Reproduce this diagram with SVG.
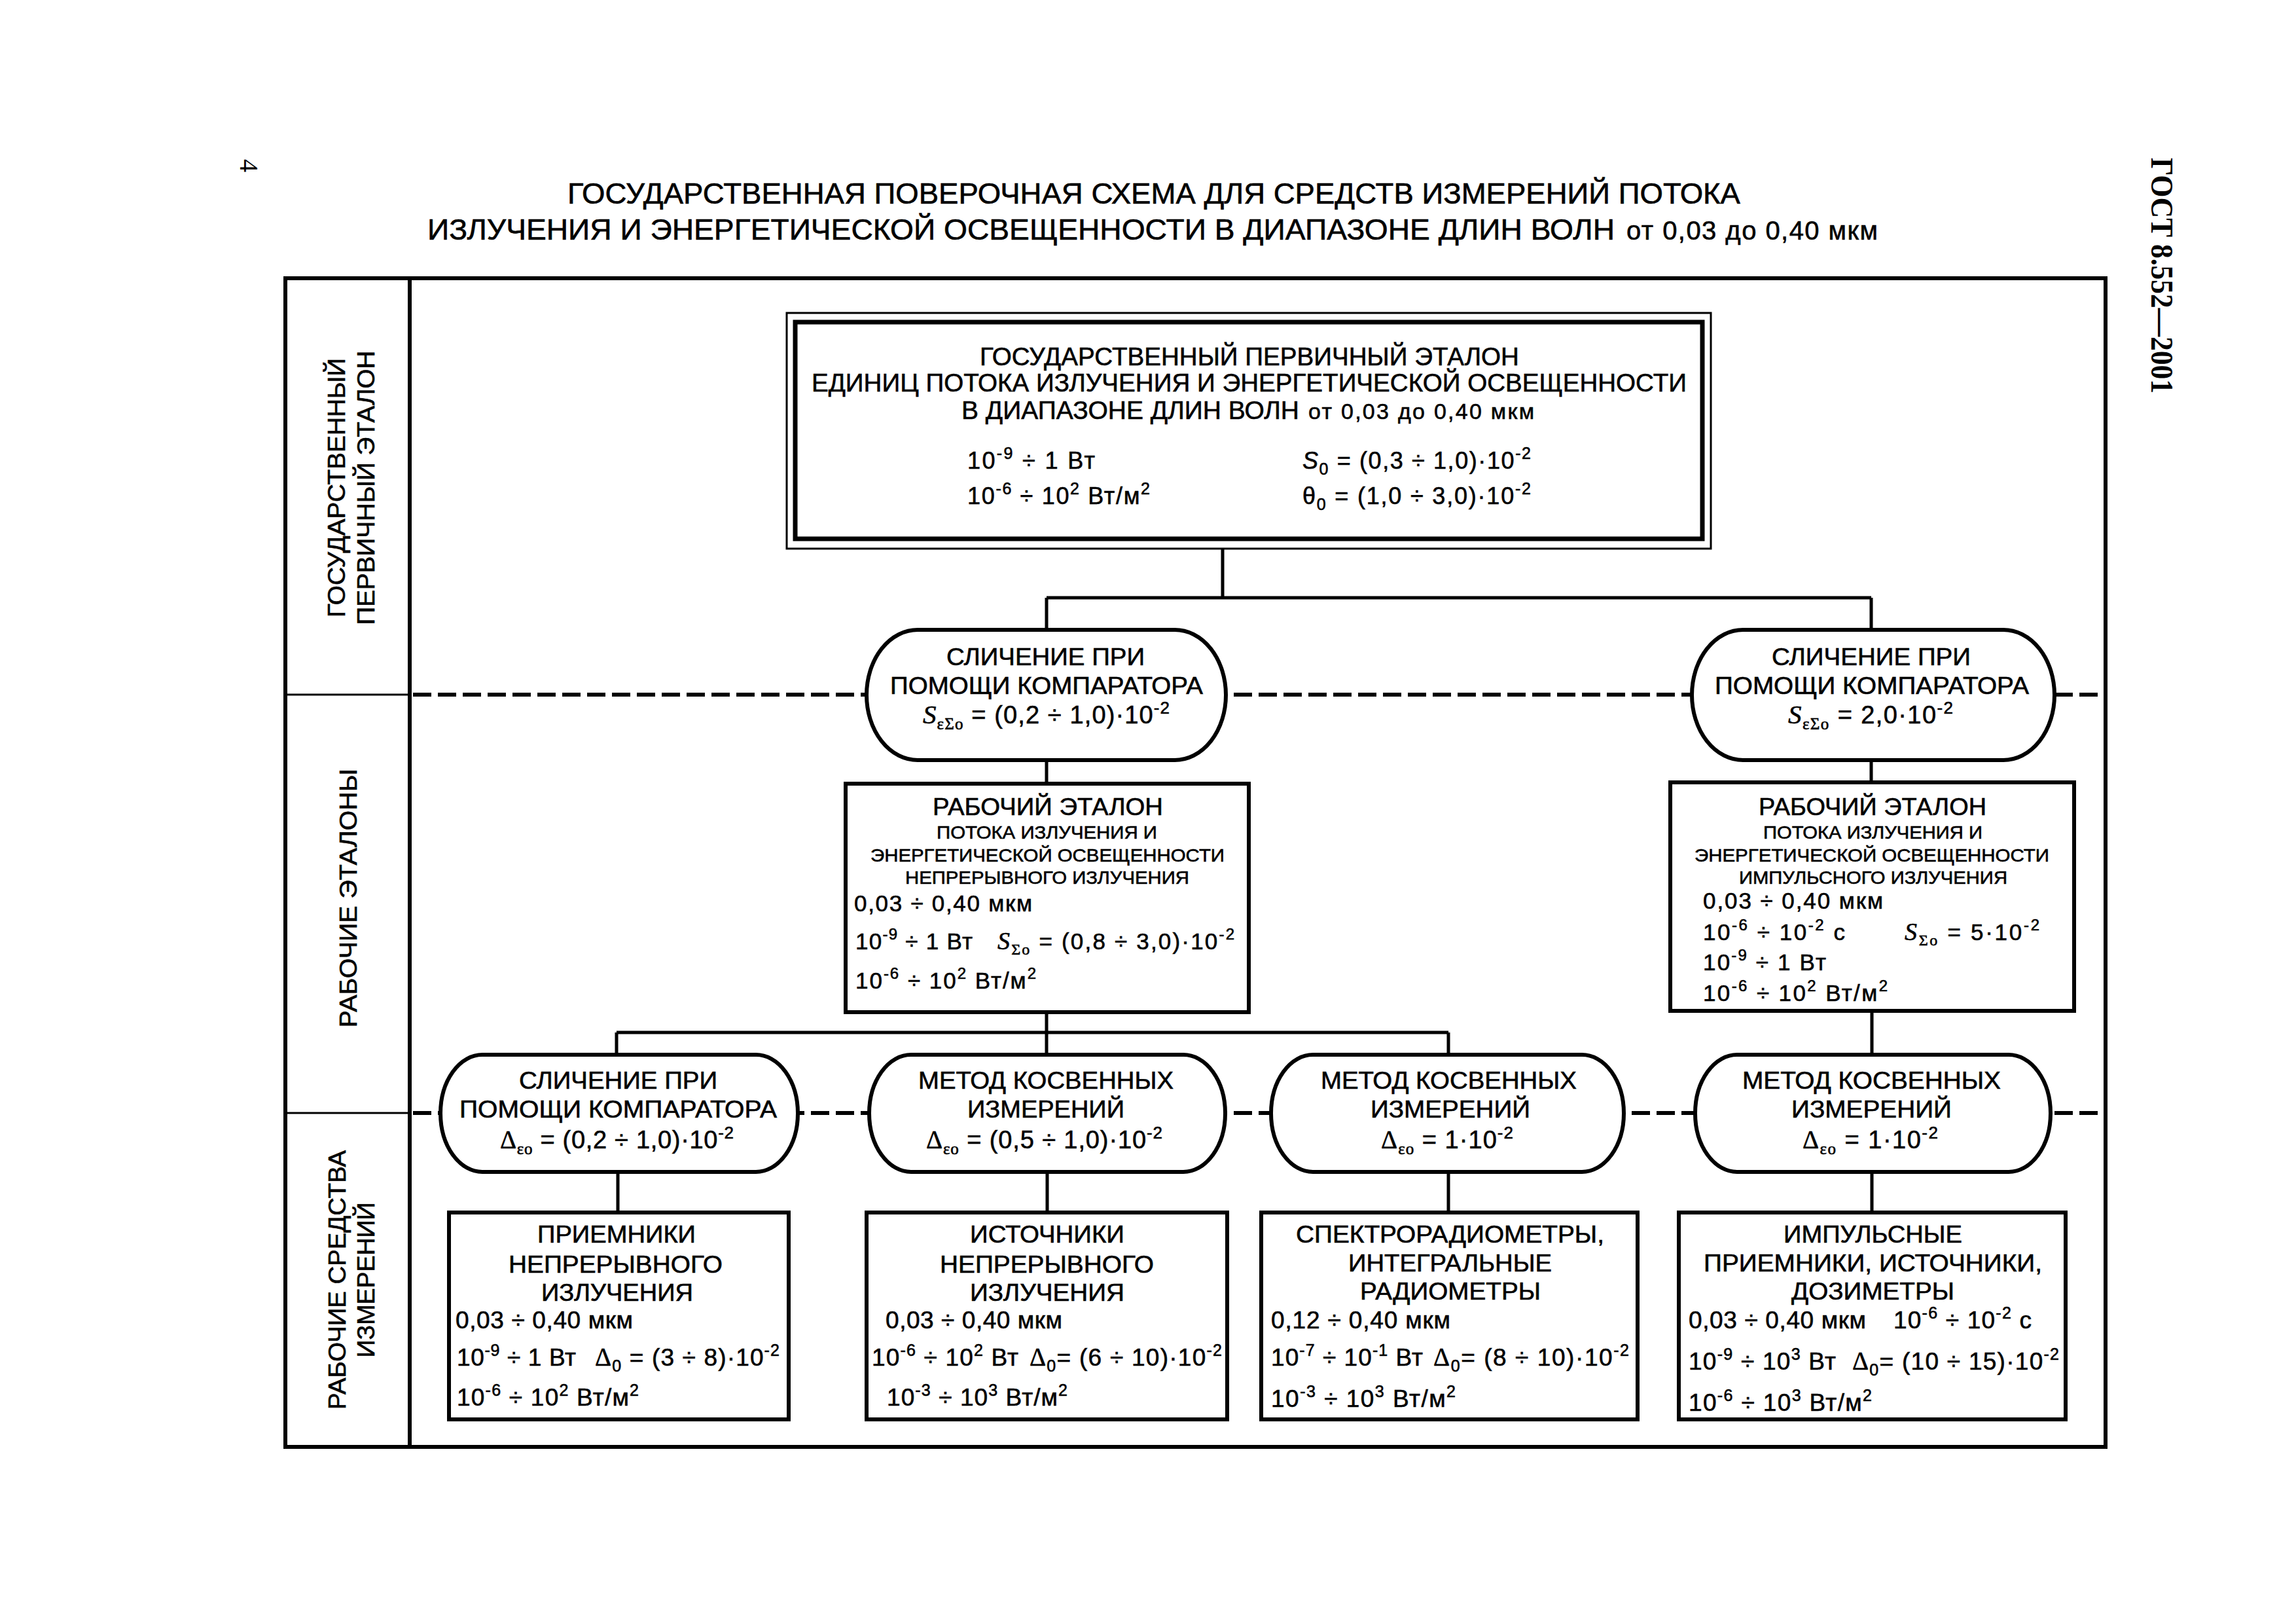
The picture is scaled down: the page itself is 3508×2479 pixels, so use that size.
<svg xmlns="http://www.w3.org/2000/svg" width="3508" height="2479" viewBox="0 0 3508 2479">
<style>
.f{font-family:"Liberation Sans",Arial,sans-serif;fill:#000;stroke:#000;stroke-width:0.6}
.s{font-family:"Liberation Serif","Times New Roman",serif;fill:#000}
.ln{stroke:#000;fill:none;stroke-width:5}
.thin{stroke:#000;fill:none;stroke-width:3}
.frame{stroke:#000;fill:none;stroke-width:6}
.box{fill:#fff;stroke:#000;stroke-width:6}
.oval{fill:#fff;stroke:#000;stroke-width:6}
.dash{stroke:#000;stroke-width:6;stroke-dasharray:28 10;fill:none}
</style>
<rect x="0" y="0" width="3508" height="2479" fill="#fff"/>

<g id="page-header">
<text class="s" font-size="40" text-anchor="middle" transform="translate(367,253) rotate(90)">4</text>
<text class="s" font-size="48" font-weight="bold" transform="translate(3287,241) rotate(90)" textLength="360" lengthAdjust="spacingAndGlyphs">ГОСТ 8.552—2001</text>
<text class="f" x="867" y="311" font-size="45" textLength="1792" lengthAdjust="spacingAndGlyphs">ГОСУДАРСТВЕННАЯ ПОВЕРОЧНАЯ СХЕМА ДЛЯ СРЕДСТВ ИЗМЕРЕНИЙ ПОТОКА</text>
<text class="f" x="653" y="366" font-size="45" textLength="1814" lengthAdjust="spacingAndGlyphs">ИЗЛУЧЕНИЯ И ЭНЕРГЕТИЧЕСКОЙ ОСВЕЩЕННОСТИ В ДИАПАЗОНЕ ДЛИН ВОЛН</text>
<text class="f" x="2485" y="366" font-size="40" textLength="384">от 0,03 до 0,40 мкм</text>
</g>

<g id="frame">
<rect class="frame" x="436" y="425" width="2781" height="1785"/>
<line class="frame" x1="626" y1="425" x2="626" y2="2210"/>
<line class="thin" x1="436" y1="1061" x2="626" y2="1061"/>
<line class="thin" x1="436" y1="1700" x2="626" y2="1700"/>
<line class="dash" x1="631" y1="1061" x2="3214" y2="1061"/>
<line class="dash" x1="631" y1="1700" x2="3214" y2="1700"/>
</g>

<g id="row-labels">
<text class="f" font-size="37" text-anchor="middle" transform="translate(527,745) rotate(-90)" textLength="396" lengthAdjust="spacingAndGlyphs">ГОСУДАРСТВЕННЫЙ</text>
<text class="f" font-size="37" text-anchor="middle" transform="translate(572,745) rotate(-90)" textLength="419" lengthAdjust="spacingAndGlyphs">ПЕРВИЧНЫЙ ЭТАЛОН</text>
<text class="f" font-size="37" text-anchor="middle" transform="translate(545,1372) rotate(-90)" textLength="395" lengthAdjust="spacingAndGlyphs">РАБОЧИЕ ЭТАЛОНЫ</text>
<text class="f" font-size="37" text-anchor="middle" transform="translate(528,1955) rotate(-90)" textLength="396" lengthAdjust="spacingAndGlyphs">РАБОЧИЕ СРЕДСТВА</text>
<text class="f" font-size="37" text-anchor="middle" transform="translate(572,1955) rotate(-90)" textLength="237" lengthAdjust="spacingAndGlyphs">ИЗМЕРЕНИЙ</text>
</g>

<g id="connectors">
<path class="ln" d="M1868 838 V913 M1599 913 H2859 M1599 913 V962 M2859 913 V962"/>
<path class="ln" d="M1599 1161 V1197 M2859 1161 V1195"/>
<path class="ln" d="M1599 1546 V1577 M942 1577 H2213 M942 1577 V1611 M1599 1577 V1611 M2213 1577 V1611 M2860 1544 V1611"/>
<path class="ln" d="M944 1790 V1852 M1600 1790 V1852 M2213 1790 V1852 M2860 1790 V1852"/>
</g>

<g id="primary-standard">
<rect x="1202" y="478" width="1412" height="360" fill="#fff" stroke="#000" stroke-width="3"/>
<rect x="1215" y="492" width="1386" height="331" fill="none" stroke="#000" stroke-width="7"/>
<text class="f" x="1497" y="558" font-size="39" textLength="824" lengthAdjust="spacingAndGlyphs">ГОСУДАРСТВЕННЫЙ ПЕРВИЧНЫЙ ЭТАЛОН</text>
<text class="f" x="1240" y="598" font-size="39" textLength="1337" lengthAdjust="spacingAndGlyphs">ЕДИНИЦ ПОТОКА ИЗЛУЧЕНИЯ И ЭНЕРГЕТИЧЕСКОЙ ОСВЕЩЕННОСТИ</text>
<text class="f" x="1469" y="640" font-size="39" textLength="516" lengthAdjust="spacingAndGlyphs">В ДИАПАЗОНЕ ДЛИН ВОЛН</text>
<text class="f" x="1999" y="640" font-size="34" textLength="345">от 0,03 до 0,40 мкм</text>
<text class="f" x="1478" y="716" font-size="36" textLength="195">10<tspan font-size="25" dy="-15">-9</tspan><tspan dy="15"> ÷ 1 Вт</tspan></text>
<text class="f" x="1990" y="716" font-size="36" textLength="349"><tspan font-style="italic">S</tspan><tspan font-size="25" dy="9">0</tspan><tspan dy="-9"> = (0,3 ÷ 1,0)·10</tspan><tspan font-size="25" dy="-15">-2</tspan></text>
<text class="f" x="1478" y="770" font-size="36" textLength="279">10<tspan font-size="25" dy="-15">-6</tspan><tspan dy="15"> ÷ 10</tspan><tspan font-size="25" dy="-15">2</tspan><tspan dy="15"> Вт/м</tspan><tspan font-size="25" dy="-15">2</tspan></text>
<text class="f" x="1990" y="770" font-size="36" textLength="349">θ<tspan font-size="25" dy="9">0</tspan><tspan dy="-9"> = (1,0 ÷ 3,0)·10</tspan><tspan font-size="25" dy="-15">-2</tspan></text>
</g>

<g id="comparison-1">
<rect class="oval" x="1324" y="962" width="549" height="199" rx="78" ry="99.5"/>
<text class="f" x="1446" y="1016" font-size="37" textLength="303" lengthAdjust="spacingAndGlyphs">СЛИЧЕНИЕ ПРИ</text>
<text class="f" x="1360" y="1060" font-size="37" textLength="478" lengthAdjust="spacingAndGlyphs">ПОМОЩИ КОМПАРАТОРА</text>
<text class="f" x="1410" y="1105" font-size="38" textLength="377"><tspan class="s" font-style="italic" font-size="41">S</tspan><tspan class="s" font-size="25" dy="9">εΣo</tspan><tspan dy="-9"> = (0,2 ÷ 1,0)·10</tspan><tspan font-size="26" dy="-15">-2</tspan></text>
</g>

<g id="comparison-2">
<rect class="oval" x="2585" y="962" width="554" height="199" rx="78" ry="99.5"/>
<text class="f" x="2707" y="1016" font-size="37" textLength="304" lengthAdjust="spacingAndGlyphs">СЛИЧЕНИЕ ПРИ</text>
<text class="f" x="2620" y="1060" font-size="37" textLength="480" lengthAdjust="spacingAndGlyphs">ПОМОЩИ КОМПАРАТОРА</text>
<text class="f" x="2732" y="1105" font-size="38" textLength="252"><tspan class="s" font-style="italic" font-size="41">S</tspan><tspan class="s" font-size="25" dy="9">εΣo</tspan><tspan dy="-9"> = 2,0·10</tspan><tspan font-size="26" dy="-15">-2</tspan></text>
</g>

<g id="working-standard-cw">
<rect class="box" x="1292" y="1197" width="616" height="349"/>
<text class="f" x="1425" y="1245" font-size="36" textLength="352" lengthAdjust="spacingAndGlyphs">РАБОЧИЙ ЭТАЛОН</text>
<text class="f" x="1431" y="1281" font-size="28" textLength="337" lengthAdjust="spacingAndGlyphs">ПОТОКА ИЗЛУЧЕНИЯ И</text>
<text class="f" x="1330" y="1316" font-size="28" textLength="541" lengthAdjust="spacingAndGlyphs">ЭНЕРГЕТИЧЕСКОЙ ОСВЕЩЕННОСТИ</text>
<text class="f" x="1383" y="1350" font-size="28" textLength="434" lengthAdjust="spacingAndGlyphs">НЕПРЕРЫВНОГО ИЗЛУЧЕНИЯ</text>
<text class="f" x="1305" y="1392" font-size="35" textLength="272">0,03 ÷ 0,40 мкм</text>
<text class="f" x="1307" y="1450" font-size="35" textLength="179">10<tspan font-size="24" dy="-15">-9</tspan><tspan dy="15"> ÷ 1 Вт</tspan></text>
<text class="f" x="1524" y="1450" font-size="35" textLength="362"><tspan class="s" font-style="italic" font-size="38">S</tspan><tspan class="s" font-size="24" dy="8">Σo</tspan><tspan dy="-8"> = (0,8 ÷ 3,0)·10</tspan><tspan font-size="24" dy="-15">-2</tspan></text>
<text class="f" x="1307" y="1510" font-size="35" textLength="276">10<tspan font-size="24" dy="-15">-6</tspan><tspan dy="15"> ÷ 10</tspan><tspan font-size="24" dy="-15">2</tspan><tspan dy="15"> Вт/м</tspan><tspan font-size="24" dy="-15">2</tspan></text>
</g>

<g id="working-standard-pulse">
<rect class="box" x="2552" y="1195" width="617" height="349"/>
<text class="f" x="2687" y="1245" font-size="36" textLength="348" lengthAdjust="spacingAndGlyphs">РАБОЧИЙ ЭТАЛОН</text>
<text class="f" x="2694" y="1281" font-size="28" textLength="335" lengthAdjust="spacingAndGlyphs">ПОТОКА ИЗЛУЧЕНИЯ И</text>
<text class="f" x="2589" y="1316" font-size="28" textLength="542" lengthAdjust="spacingAndGlyphs">ЭНЕРГЕТИЧЕСКОЙ ОСВЕЩЕННОСТИ</text>
<text class="f" x="2657" y="1350" font-size="28" textLength="410" lengthAdjust="spacingAndGlyphs">ИМПУЛЬСНОГО ИЗЛУЧЕНИЯ</text>
<text class="f" x="2602" y="1388" font-size="35" textLength="275">0,03 ÷ 0,40 мкм</text>
<text class="f" x="2602" y="1436" font-size="35" textLength="217">10<tspan font-size="24" dy="-15">-6</tspan><tspan dy="15"> ÷ 10</tspan><tspan font-size="24" dy="-15">-2</tspan><tspan dy="15"> с</tspan></text>
<text class="f" x="2910" y="1436" font-size="35" textLength="206"><tspan class="s" font-style="italic" font-size="38">S</tspan><tspan class="s" font-size="24" dy="8">Σo</tspan><tspan dy="-8"> = 5·10</tspan><tspan font-size="24" dy="-15">-2</tspan></text>
<text class="f" x="2602" y="1482" font-size="35" textLength="188">10<tspan font-size="24" dy="-15">-9</tspan><tspan dy="15"> ÷ 1 Вт</tspan></text>
<text class="f" x="2602" y="1529" font-size="35" textLength="282">10<tspan font-size="24" dy="-15">-6</tspan><tspan dy="15"> ÷ 10</tspan><tspan font-size="24" dy="-15">2</tspan><tspan dy="15"> Вт/м</tspan><tspan font-size="24" dy="-15">2</tspan></text>
</g>

<g id="method-comparator">
<rect class="oval" x="673" y="1611" width="546" height="179" rx="64" ry="89.5"/>
<text class="f" x="793" y="1663" font-size="37" textLength="303" lengthAdjust="spacingAndGlyphs">СЛИЧЕНИЕ ПРИ</text>
<text class="f" x="702" y="1707" font-size="37" textLength="485" lengthAdjust="spacingAndGlyphs">ПОМОЩИ КОМПАРАТОРА</text>
<text class="f" x="764" y="1754" font-size="38" textLength="357"><tspan class="s" font-size="39">Δ</tspan><tspan class="s" font-size="25" dy="9">εo</tspan><tspan dy="-9"> = (0,2 ÷ 1,0)·10</tspan><tspan font-size="26" dy="-15">-2</tspan></text>
</g>

<g id="method-indirect-1">
<rect class="oval" x="1328" y="1611" width="544" height="179" rx="64" ry="89.5"/>
<text class="f" x="1403" y="1663" font-size="37" textLength="390" lengthAdjust="spacingAndGlyphs">МЕТОД КОСВЕННЫХ</text>
<text class="f" x="1478" y="1707" font-size="37" textLength="240" lengthAdjust="spacingAndGlyphs">ИЗМЕРЕНИЙ</text>
<text class="f" x="1415" y="1754" font-size="38" textLength="361"><tspan class="s" font-size="39">Δ</tspan><tspan class="s" font-size="25" dy="9">εo</tspan><tspan dy="-9"> = (0,5 ÷ 1,0)·10</tspan><tspan font-size="26" dy="-15">-2</tspan></text>
</g>

<g id="method-indirect-2">
<rect class="oval" x="1942" y="1611" width="539" height="179" rx="64" ry="89.5"/>
<text class="f" x="2018" y="1663" font-size="37" textLength="391" lengthAdjust="spacingAndGlyphs">МЕТОД КОСВЕННЫХ</text>
<text class="f" x="2094" y="1707" font-size="37" textLength="244" lengthAdjust="spacingAndGlyphs">ИЗМЕРЕНИЙ</text>
<text class="f" x="2110" y="1754" font-size="38" textLength="202"><tspan class="s" font-size="39">Δ</tspan><tspan class="s" font-size="25" dy="9">εo</tspan><tspan dy="-9"> = 1·10</tspan><tspan font-size="26" dy="-15">-2</tspan></text>
</g>

<g id="method-indirect-3">
<rect class="oval" x="2590" y="1611" width="543" height="179" rx="64" ry="89.5"/>
<text class="f" x="2662" y="1663" font-size="37" textLength="395" lengthAdjust="spacingAndGlyphs">МЕТОД КОСВЕННЫХ</text>
<text class="f" x="2737" y="1707" font-size="37" textLength="245" lengthAdjust="spacingAndGlyphs">ИЗМЕРЕНИЙ</text>
<text class="f" x="2754" y="1754" font-size="38" textLength="207"><tspan class="s" font-size="39">Δ</tspan><tspan class="s" font-size="25" dy="9">εo</tspan><tspan dy="-9"> = 1·10</tspan><tspan font-size="26" dy="-15">-2</tspan></text>
</g>

<g id="receivers-cw">
<rect class="box" x="686" y="1852" width="519" height="316"/>
<text class="f" x="821" y="1898" font-size="37" textLength="242" lengthAdjust="spacingAndGlyphs">ПРИЕМНИКИ</text>
<text class="f" x="777" y="1944" font-size="37" textLength="327" lengthAdjust="spacingAndGlyphs">НЕПРЕРЫВНОГО</text>
<text class="f" x="827" y="1987" font-size="37" textLength="232" lengthAdjust="spacingAndGlyphs">ИЗЛУЧЕНИЯ</text>
<text class="f" x="696" y="2029" font-size="37" textLength="271">0,03 ÷ 0,40 мкм</text>
<text class="f" x="698" y="2086" font-size="37" textLength="182">10<tspan font-size="25" dy="-15">-9</tspan><tspan dy="15"> ÷ 1 Вт</tspan></text>
<text class="f" x="909" y="2086" font-size="37" textLength="282"><tspan class="s" font-size="39">Δ</tspan><tspan font-size="25" dy="9">0</tspan><tspan dy="-9"> = (3 ÷ 8)·10</tspan><tspan font-size="25" dy="-15">-2</tspan></text>
<text class="f" x="698" y="2147" font-size="37" textLength="278">10<tspan font-size="25" dy="-15">-6</tspan><tspan dy="15"> ÷ 10</tspan><tspan font-size="25" dy="-15">2</tspan><tspan dy="15"> Вт/м</tspan><tspan font-size="25" dy="-15">2</tspan></text>
</g>

<g id="sources-cw">
<rect class="box" x="1324" y="1852" width="551" height="316"/>
<text class="f" x="1482" y="1898" font-size="37" textLength="236" lengthAdjust="spacingAndGlyphs">ИСТОЧНИКИ</text>
<text class="f" x="1436" y="1944" font-size="37" textLength="327" lengthAdjust="spacingAndGlyphs">НЕПРЕРЫВНОГО</text>
<text class="f" x="1482" y="1987" font-size="37" textLength="236" lengthAdjust="spacingAndGlyphs">ИЗЛУЧЕНИЯ</text>
<text class="f" x="1353" y="2029" font-size="37" textLength="270">0,03 ÷ 0,40 мкм</text>
<text class="f" x="1332" y="2086" font-size="37" textLength="224">10<tspan font-size="25" dy="-15">-6</tspan><tspan dy="15"> ÷ 10</tspan><tspan font-size="25" dy="-15">2</tspan><tspan dy="15"> Вт</tspan></text>
<text class="f" x="1573" y="2086" font-size="37" textLength="294"><tspan class="s" font-size="39">Δ</tspan><tspan font-size="25" dy="9">0</tspan><tspan dy="-9">= (6 ÷ 10)·10</tspan><tspan font-size="25" dy="-15">-2</tspan></text>
<text class="f" x="1355" y="2147" font-size="37" textLength="276">10<tspan font-size="25" dy="-15">-3</tspan><tspan dy="15"> ÷ 10</tspan><tspan font-size="25" dy="-15">3</tspan><tspan dy="15"> Вт/м</tspan><tspan font-size="25" dy="-15">2</tspan></text>
</g>

<g id="spectroradiometers">
<rect class="box" x="1927" y="1852" width="575" height="316"/>
<text class="f" x="1980" y="1898" font-size="37" textLength="471" lengthAdjust="spacingAndGlyphs">СПЕКТРОРАДИОМЕТРЫ,</text>
<text class="f" x="2060" y="1942" font-size="37" textLength="311" lengthAdjust="spacingAndGlyphs">ИНТЕГРАЛЬНЫЕ</text>
<text class="f" x="2078" y="1985" font-size="37" textLength="276" lengthAdjust="spacingAndGlyphs">РАДИОМЕТРЫ</text>
<text class="f" x="1942" y="2029" font-size="37" textLength="274">0,12 ÷ 0,40 мкм</text>
<text class="f" x="1942" y="2086" font-size="37" textLength="232">10<tspan font-size="25" dy="-15">-7</tspan><tspan dy="15"> ÷ 10</tspan><tspan font-size="25" dy="-15">-1</tspan><tspan dy="15"> Вт</tspan></text>
<text class="f" x="2190" y="2086" font-size="37" textLength="299"><tspan class="s" font-size="39">Δ</tspan><tspan font-size="25" dy="9">0</tspan><tspan dy="-9">= (8 ÷ 10)·10</tspan><tspan font-size="25" dy="-15">-2</tspan></text>
<text class="f" x="1942" y="2149" font-size="37" textLength="282">10<tspan font-size="25" dy="-15">-3</tspan><tspan dy="15"> ÷ 10</tspan><tspan font-size="25" dy="-15">3</tspan><tspan dy="15"> Вт/м</tspan><tspan font-size="25" dy="-15">2</tspan></text>
</g>

<g id="pulse-instruments">
<rect class="box" x="2565" y="1852" width="591" height="316"/>
<text class="f" x="2725" y="1898" font-size="37" textLength="273" lengthAdjust="spacingAndGlyphs">ИМПУЛЬСНЫЕ</text>
<text class="f" x="2603" y="1942" font-size="37" textLength="517" lengthAdjust="spacingAndGlyphs">ПРИЕМНИКИ, ИСТОЧНИКИ,</text>
<text class="f" x="2737" y="1985" font-size="37" textLength="249" lengthAdjust="spacingAndGlyphs">ДОЗИМЕТРЫ</text>
<text class="f" x="2580" y="2029" font-size="37" textLength="271">0,03 ÷ 0,40 мкм</text>
<text class="f" x="2893" y="2029" font-size="37" textLength="211">10<tspan font-size="25" dy="-15">-6</tspan><tspan dy="15"> ÷ 10</tspan><tspan font-size="25" dy="-15">-2</tspan><tspan dy="15"> с</tspan></text>
<text class="f" x="2580" y="2092" font-size="37" textLength="225">10<tspan font-size="25" dy="-15">-9</tspan><tspan dy="15"> ÷ 10</tspan><tspan font-size="25" dy="-15">3</tspan><tspan dy="15"> Вт</tspan></text>
<text class="f" x="2830" y="2092" font-size="37" textLength="316"><tspan class="s" font-size="39">Δ</tspan><tspan font-size="25" dy="9">0</tspan><tspan dy="-9">= (10 ÷ 15)·10</tspan><tspan font-size="25" dy="-15">-2</tspan></text>
<text class="f" x="2580" y="2155" font-size="37" textLength="280">10<tspan font-size="25" dy="-15">-6</tspan><tspan dy="15"> ÷ 10</tspan><tspan font-size="25" dy="-15">3</tspan><tspan dy="15"> Вт/м</tspan><tspan font-size="25" dy="-15">2</tspan></text>
</g>
</svg>
